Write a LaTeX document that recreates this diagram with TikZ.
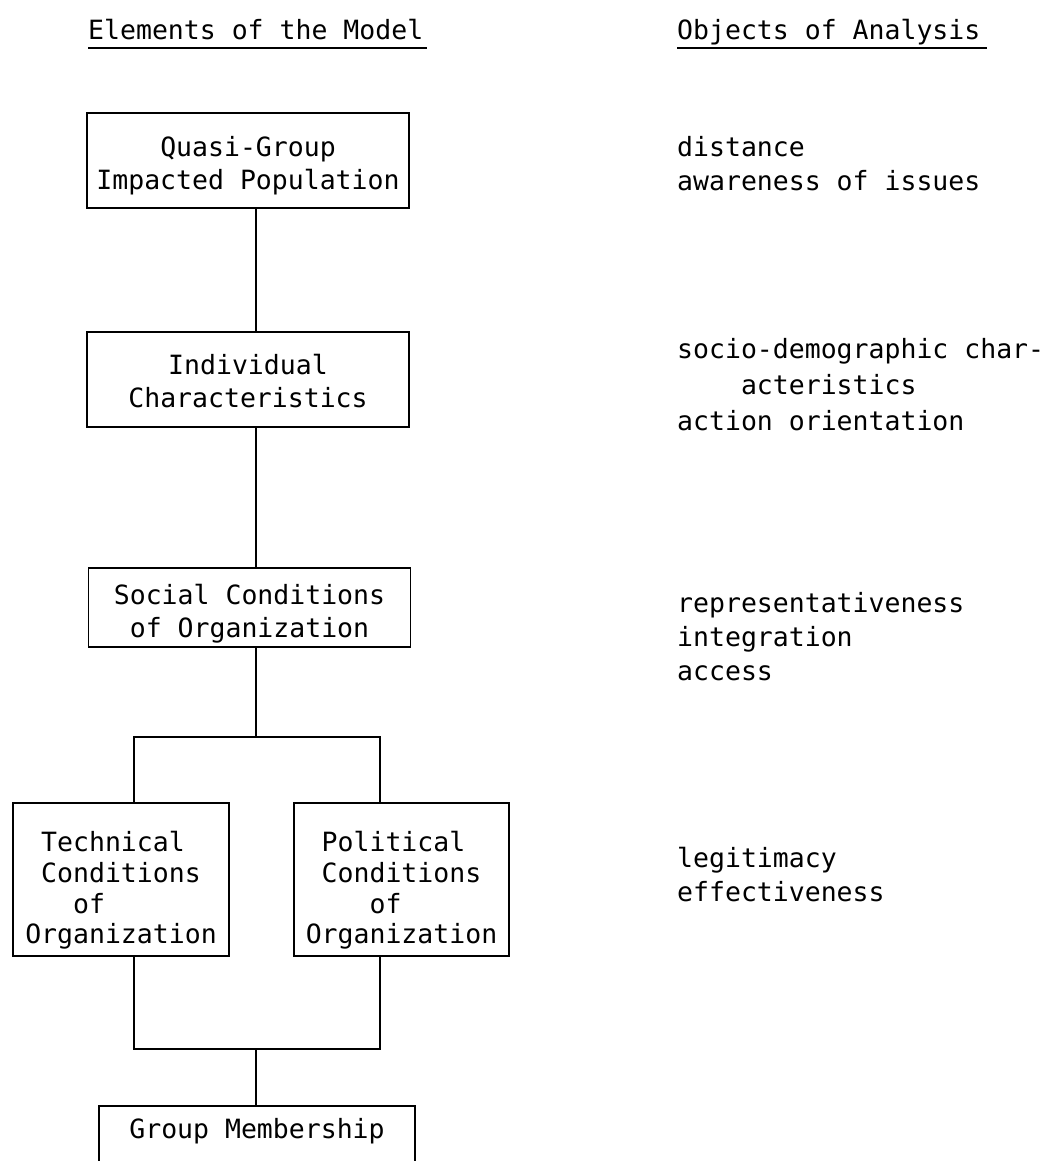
\documentclass[tikz,border=0pt]{standalone}
\usepackage{fontspec}
\newfontfamily\mono{DejaVu Sans Mono}
\begin{document}
\begin{tikzpicture}[x=1pt,y=1pt,
  txt/.style={font=\mono\fontsize{26.5}{35}\selectfont, inner sep=0pt, align=left},
  box/.style={draw, line width=1.8pt, inner sep=0pt, align=center, font=\mono\fontsize{26.5}{33}\selectfont},
  tallbox/.style={box, align=left, font=\mono\fontsize{26.5}{30.7}\selectfont, minimum width=216pt, minimum height=153pt},
  conn/.style={line width=1.8pt},
  uline/.style={line width=1.8pt}]
\useasboundingbox (0,0) rectangle (1054,-1161);
\fill[white] (0,0) rectangle (1054,-1161);

% headers
\node[txt, anchor=base west] (h1) at (88,-39.5) {Elements of the Model};
\draw[uline] ([yshift=-8.5pt]h1.base west) -- ([yshift=-8.5pt,xshift=4pt]h1.base east);
\node[txt, anchor=base west] (h2) at (677,-39.5) {Objects of Analysis};
\draw[uline] ([yshift=-8.5pt]h2.base west) -- ([yshift=-8.5pt,xshift=6pt]h2.base east);

% boxes
\node[box, minimum width=322pt, minimum height=95pt] (b1) at (248,-160.5) {\rule{0pt}{30pt}Quasi-Group\\Impacted Population};
\node[box, minimum width=322pt, minimum height=95pt] (b2) at (248,-379.5) {\rule{0pt}{23pt}Individual\\Characteristics};
\node[box, minimum width=322pt, minimum height=79pt] (b3) at (249.5,-607.5) {\rule{0pt}{32pt}Social Conditions\\of Organization};
\node[tallbox] (t) at (121,-879.5) {\rule{0pt}{42pt}\phantom{O}Technical\\\phantom{O}Conditions\\\phantom{OOO}of\\Organization};
\node[tallbox, minimum width=215pt] (p) at (401.5,-879.5) {\rule{0pt}{42pt}\phantom{O}Political\\\phantom{O}Conditions\\\phantom{OOOO}of\\Organization};
\node[font=\mono\fontsize{26.5}{33}\selectfont, inner sep=0pt, minimum width=316pt, minimum height=50pt] (gm) at (257,-1131) {Group Membership};
\draw[conn] ([yshift=-20pt]gm.south west) -- (gm.north west) -- (gm.north east) -- ([yshift=-20pt]gm.south east);

% connectors
\coordinate (sp) at (256,0);
\coordinate (tl) at (134,-737);
\coordinate (tr) at (380,-737);
\coordinate (bl) at (134,-1049);
\coordinate (br) at (380,-1049);
\draw[conn] (b1.south -| sp) -- (b2.north -| sp);
\draw[conn] (b2.south -| sp) -- (b3.north -| sp);
\draw[conn] (b3.south -| sp) -- (sp |- tl);
\draw[conn] (t.north -| tl) -- (tl) -- (tr) -- (p.north -| tr);
\draw[conn] (t.south -| bl) -- (bl) -- (br) -- (p.south -| br);
\draw[conn] (sp |- bl) -- (gm.north -| sp);

% objects of analysis (base anchor = baseline of last line)
\node[txt, anchor=base west] (o1) at (677,-191) {distance\\awareness of issues};
\node[txt, anchor=base west, font=\mono\fontsize{26.5}{36}\selectfont] (o2) at (677,-430) {socio-demographic char-\\\phantom{xxxx}acteristics\\action orientation};
\node[txt, anchor=base west, font=\mono\fontsize{26.5}{34}\selectfont] (o3) at (677,-680) {representativeness\\integration\\access};
\node[txt, anchor=base west, font=\mono\fontsize{26.5}{34}\selectfont] (o4) at (677,-901) {legitimacy\\effectiveness};
\end{tikzpicture}
\end{document}
